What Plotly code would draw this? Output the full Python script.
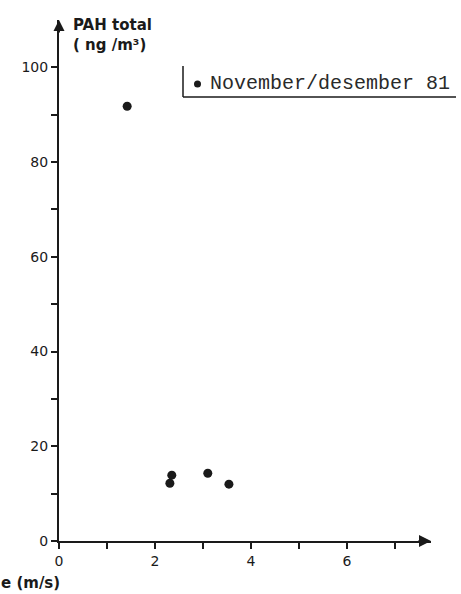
import plotly.graph_objects as go

# Wind speed (m/s) vs total PAH concentration (ng/m3)
wind_speed = [1.42, 2.31, 2.35, 3.10, 3.54]
pah_total = [91.8, 12.2, 13.9, 14.3, 12.0]
series_name = "November/desember 81"

x_major = [0, 2, 4, 6]
x_minor = [1, 3, 5, 7]
y_major = [0, 20, 40, 60, 80, 100]
y_minor = [10, 30, 50, 70, 90]

INK = "#1a1a1a"
LEFT, RIGHT, TOP, BOTTOM = 59, 431, 20, 541
W, H = 461, 594


def px_x(p):
    return (p - LEFT) / (RIGHT - LEFT)


def px_y(p):
    return (BOTTOM - p) / (BOTTOM - TOP)


fig = go.Figure(
    go.Scatter(
        x=wind_speed,
        y=pah_total,
        mode="markers",
        name=series_name,
        marker=dict(color=INK, size=9),
        showlegend=False,
    )
)

tick_font = dict(family="DejaVu Sans", size=14, color=INK)

fig.update_layout(
    width=W,
    height=H,
    margin=dict(l=LEFT, r=W - RIGHT, t=TOP, b=H - BOTTOM),
    plot_bgcolor="white",
    paper_bgcolor="white",
)

fig.update_xaxes(
    range=[0, 7.75],
    showline=True, linecolor=INK, linewidth=2,
    showgrid=False, zeroline=False,
    tickvals=x_major, ticktext=[str(v) for v in x_major],
    ticks="outside", ticklen=6, tickwidth=1.5, tickcolor=INK,
    minor=dict(tickvals=x_minor, ticks="outside", ticklen=6, tickwidth=1.5, tickcolor=INK),
    tickfont=tick_font,
)
fig.update_yaxes(
    range=[0, 110],
    showline=True, linecolor=INK, linewidth=2,
    showgrid=False, zeroline=False,
    tickvals=y_major, ticktext=[str(v) for v in y_major],
    ticks="outside", ticklen=6, tickwidth=1.5, tickcolor=INK,
    minor=dict(tickvals=y_minor, ticks="outside", ticklen=6, tickwidth=1.5, tickcolor=INK),
    tickfont=tick_font,
)

# Axis arrowheads
fig.add_annotation(x=7.75, y=0, xref="x", yref="y", ax=-14, ay=0, axref="pixel", ayref="pixel",
                   showarrow=True, arrowhead=2, arrowsize=1.2, arrowwidth=2, arrowcolor=INK, text="")
fig.add_annotation(x=0, y=110, xref="x", yref="y", ax=0, ay=14, axref="pixel", ayref="pixel",
                   showarrow=True, arrowhead=2, arrowsize=1.1, arrowwidth=2, arrowcolor=INK, text="")

# Axis titles
fig.add_annotation(x=px_x(71), y=px_y(14), xref="paper", yref="paper", xanchor="left", yanchor="top",
                   text="<b>PAH total</b><br><b>( ng /m³)</b>", showarrow=False, align="left",
                   font=dict(family="DejaVu Sans", size=15, color=INK))
fig.add_annotation(x=px_x(-1), y=px_y(594), xref="paper", yref="paper", xanchor="left", yanchor="bottom",
                   text="<b>e (m/s)</b>", showarrow=False,
                   font=dict(family="DejaVu Sans", size=15, color=INK))

# Key: bullet, label and the two framing lines
fig.add_shape(type="circle", xref="paper", yref="paper",
              x0=px_x(194), x1=px_x(201), y0=px_y(80.5), y1=px_y(87.5),
              fillcolor=INK, line=dict(color=INK, width=0))
fig.add_annotation(x=px_x(208), y=px_y(84), xref="paper", yref="paper", xanchor="left", yanchor="middle",
                   text=series_name, showarrow=False,
                   font=dict(family="Liberation Mono", size=20, color="#2a2a2a"))
fig.add_shape(type="line", xref="paper", yref="paper",
              x0=px_x(183), x1=px_x(183), y0=px_y(66), y1=px_y(97),
              line=dict(color=INK, width=1.5))
fig.add_shape(type="line", xref="paper", yref="paper",
              x0=px_x(183), x1=px_x(456), y0=px_y(97), y1=px_y(97),
              line=dict(color=INK, width=1.5))

fig.write_html("out.html")
